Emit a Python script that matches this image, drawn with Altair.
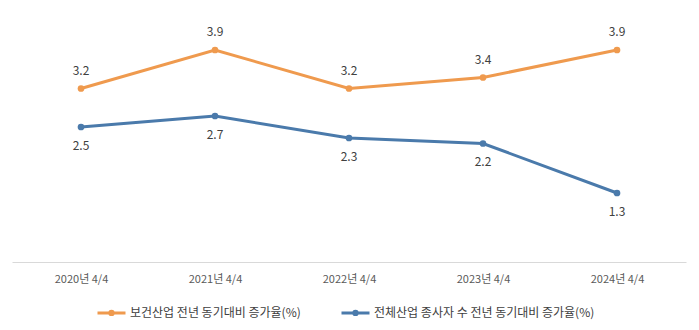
import altair as alt
import pandas as pd

periods = ["2020년 4/4", "2021년 4/4", "2022년 4/4", "2023년 4/4", "2024년 4/4"]
health = [3.2, 3.9, 3.2, 3.4, 3.9]
total = [2.5, 2.7, 2.3, 2.2, 1.3]
series_names = ["보건산업 전년 동기대비 증가율(%)", "전체산업 종사자 수 전년 동기대비 증가율(%)"]
colors = ["#EF9A4E", "#4A7AAB"]

rows = []
for name, vals in zip(series_names, [health, total]):
    for p, v in zip(periods, vals):
        rows.append({"period": p, "value": v, "series": name})
df = pd.DataFrame(rows)

FONT = "Noto Sans CJK KR"

x = alt.X(
    "period:N",
    sort=periods,
    scale=alt.Scale(padding=0.515),
    axis=alt.Axis(
        title=None, labelAngle=0, domain=True, domainColor="#D9D9D9", domainWidth=1,
        ticks=False, grid=False, labelPadding=11, labelFont=FONT, labelFontSize=11,
        labelColor="#595959",
    ),
)
y = alt.Y("value:Q", scale=alt.Scale(domain=[0.045, 4.555], nice=False, zero=False), axis=None)

color = alt.Color(
    "series:N",
    scale=alt.Scale(domain=series_names, range=colors),
    sort=series_names,
    legend=alt.Legend(
        title=None, orient="none", direction="horizontal", legendX=84, legendY=283,
        symbolType="M-1,0L1,0M0.12,0A0.12,0.12 0 1 1 -0.12,0A0.12,0.12 0 1 1 0.12,0",
        symbolSize=784, symbolStrokeWidth=3, labelFont=FONT, labelFontSize=12,
        labelColor="#404040", columnPadding=34, labelOffset=3, padding=0, labelLimit=0,
    ),
)

lines = alt.Chart(df).mark_line(
    strokeWidth=3, point=alt.OverlayMarkDef(filled=True, size=45)
).encode(x=x, y=y, color=color)

lbl_top = alt.Chart(df).transform_filter(
    alt.datum.series == series_names[0]
).mark_text(dy=-18, font=FONT, fontSize=12, color="#404040").encode(
    x=x, y=y, text=alt.Text("value:Q", format=".1f")
)
lbl_bot = alt.Chart(df).transform_filter(
    alt.datum.series == series_names[1]
).mark_text(dy=19, font=FONT, fontSize=12, color="#404040").encode(
    x=x, y=y, text=alt.Text("value:Q", format=".1f")
)

chart = alt.layer(lines, lbl_top, lbl_bot).properties(
    width=674, height=248,
    autosize=alt.AutoSizeParams(type="none"),
    padding={"left": 12, "top": 14, "right": 13, "bottom": 68},
    background="white",
).configure_view(stroke=None)

chart.save("out.html", embed_options={"renderer": "svg", "actions": False})
